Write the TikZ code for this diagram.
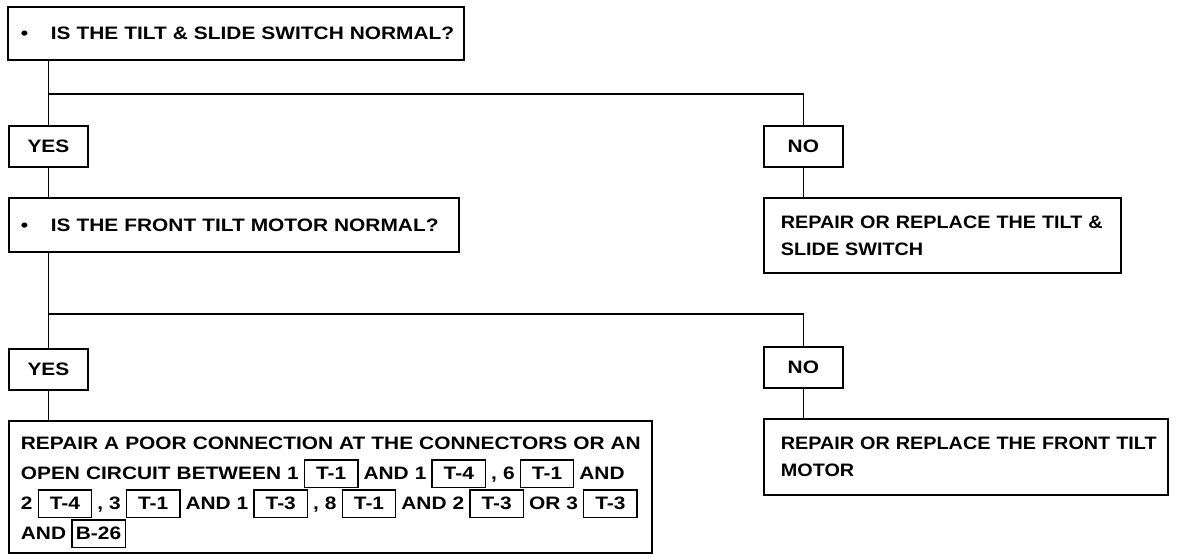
\documentclass[tikz,border=0pt]{standalone}
\usepackage{fontspec}
\setmainfont{Liberation Sans}[FakeStretch=1.16]
\newfontfamily\rfont{Liberation Sans}[FakeStretch=1.10]
\newcommand\cbx[1]{\hspace{2.5pt}{\setlength\fboxsep{0pt}\setlength\fboxrule{0.7pt}\fbox{\rule[-3.5pt]{0pt}{13pt}\makebox[26pt]{#1}}}\hspace{2.5pt}}
\begin{document}
\begin{tikzpicture}[x=0.5pt,y=-0.5pt,
  font=\fontsize{9}{13.5}\selectfont\bfseries,
  box/.style={draw,line width=0.9pt,anchor=north west,inner ysep=0pt,align=left},
  tag/.style={draw,line width=0.9pt,anchor=north west,inner sep=0pt,minimum width=39.5pt,minimum height=20.5pt,align=center},
  conn/.style={line width=0.8pt}]
\useasboundingbox[fill=white] (0,0) rectangle (1184,560);
\node[box,inner xsep=6.5pt,text width=215pt,minimum height=26.5pt] (b1) at (7,6)
  {\mbox{\makebox[15pt][l]{•}IS THE TILT \& SLIDE SWITCH NORMAL?}};
\node[tag] (yes1) at (8,125) {YES};
\node[tag] (no1) at (763,125) {NO};
\node[box,inner xsep=6pt,text width=213pt,minimum height=27pt] (b2) at (8,197)
  {\mbox{\makebox[15pt][l]{•}IS THE FRONT TILT MOTOR NORMAL?}};
\node[box,inner xsep=8.5pt,text width=161.5pt,minimum height=37.5pt,font=\fontsize{9}{13.5}\rfont\bfseries] (rep1) at (763,197)
  {\mbox{REPAIR OR REPLACE THE TILT \&}\\\mbox{SLIDE SWITCH}};
\node[tag] (yes2) at (8,348) {YES};
\node[tag] (no2) at (763,346) {NO};
\node[box,inner xsep=6pt,inner ysep=0pt,text width=309.5pt,minimum height=66pt,font=\fontsize{9}{15}\selectfont\bfseries] (b3) at (8,420)
  {\rule{0pt}{5pt}\\[-8pt]
   \mbox{REPAIR A POOR CONNECTION AT THE CONNECTORS OR AN}\\
   \mbox{OPEN CIRCUIT BETWEEN 1\cbx{T-1}AND 1\cbx{T-4}, 6\cbx{T-1}AND}\\
   \mbox{2\cbx{T-4}, 3\cbx{T-1}AND 1\cbx{T-3}, 8\cbx{T-1}AND 2\cbx{T-3}OR 3\cbx{T-3}}\\
   \mbox{AND\cbx{B-26}}};
\node[box,inner xsep=8.5pt,text width=185pt,minimum height=38pt,font=\fontsize{9}{13.5}\rfont\bfseries] (rep2) at (763,418)
  {\mbox{REPAIR OR REPLACE THE FRONT TILT}\\\mbox{MOTOR}};
\coordinate (h1) at (0,94);
\coordinate (h2) at (0,314);
\coordinate (j1) at (yes1.north |- h1);
\coordinate (j2) at (yes2.north |- h2);
\draw[conn] (yes1.north |- b1.south) -- (yes1.north);
\draw[conn] (j1) -| (no1.north);
\draw[conn] (yes1.south) -- (yes1.south |- b2.north);
\draw[conn] (no1.south) -- (no1.south |- rep1.north);
\draw[conn] (yes2.north |- b2.south) -- (yes2.north);
\draw[conn] (j2) -| (no2.north);
\draw[conn] (yes2.south) -- (yes2.south |- b3.north);
\draw[conn] (no2.south) -- (no2.south |- rep2.north);
\end{tikzpicture}
\end{document}
